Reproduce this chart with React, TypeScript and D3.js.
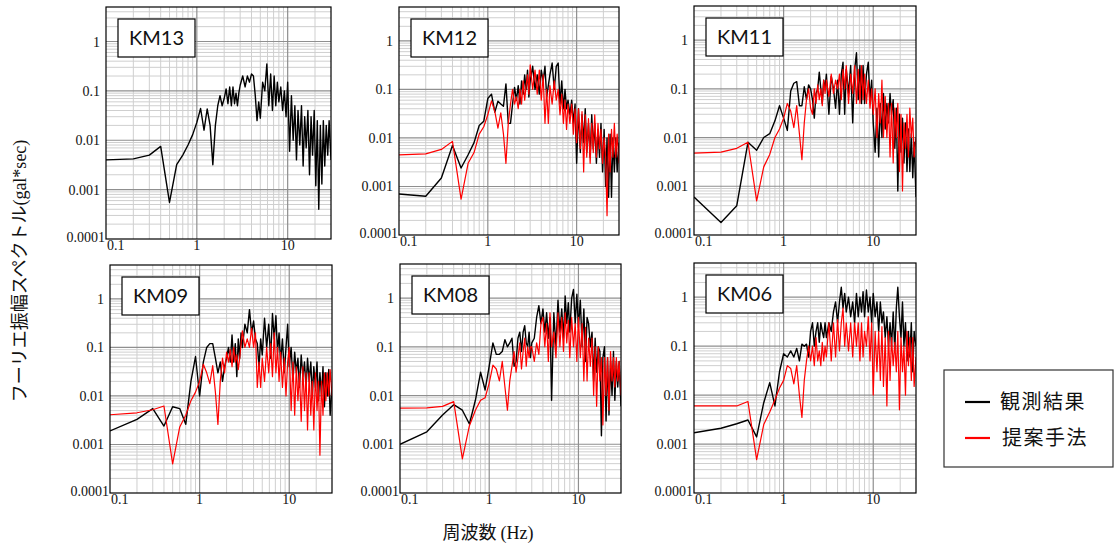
import React from 'react'
import * as d3 from 'd3'

// frequency grid (Hz) shared by every spectrum
const freqs = [
  0.1, 0.2, 0.3, 0.4, 0.5, 0.6, 0.7, 0.8, 0.9, 1.0,
  1.1, 1.2, 1.3, 1.4, 1.5, 1.6, 1.7, 1.8, 1.9, 2.0,
  2.1, 2.2, 2.3, 2.4, 2.5, 2.6, 2.7, 2.8, 2.9, 3.0,
  3.2, 3.4, 3.6, 3.8, 4.0, 4.2, 4.4, 4.6, 4.8, 5.0,
  5.3, 5.6, 5.9, 6.2, 6.5, 6.8, 7.1, 7.4, 7.7, 8.0,
  8.4, 8.8, 9.2, 9.6, 10.0, 10.5, 11.0, 11.5, 12.0, 12.5,
  13.0, 13.6, 14.2, 14.8, 15.4, 16.0, 16.7, 17.4, 18.1, 18.8,
  19.6, 20.4, 21.2, 22.0, 22.9, 23.8, 24.7, 25.6, 26.6, 27.6,
  28.6, 30.0,
]

// 観測結果 (observed)
const km13Obs = [
  0.004, 0.0042, 0.005, 0.0075, 0.00055, 0.0032, 0.005, 0.008, 0.013, 0.023,
  0.044, 0.016, 0.043, 0.02, 0.0032, 0.02, 0.05, 0.08, 0.05, 0.07,
  0.11, 0.055, 0.12, 0.05, 0.12, 0.055, 0.09, 0.05, 0.09, 0.13,
  0.2, 0.12, 0.2, 0.15, 0.22, 0.2, 0.08, 0.025, 0.06, 0.028,
  0.15, 0.1, 0.35, 0.05, 0.22, 0.04, 0.2, 0.05, 0.15, 0.06,
  0.12, 0.04, 0.1, 0.03, 0.15, 0.006, 0.08, 0.01, 0.05, 0.004,
  0.04, 0.008, 0.05, 0.003, 0.03, 0.007, 0.04, 0.002, 0.03, 0.005,
  0.04, 0.0012, 0.025, 0.0004, 0.02, 0.0013, 0.025, 0.003, 0.02, 0.005,
  0.025, 0.004,
]
const km12Obs = [
  0.0007, 0.00063, 0.0015, 0.007, 0.0024, 0.0045, 0.008, 0.018, 0.022, 0.065,
  0.08, 0.034, 0.057, 0.05, 0.045, 0.13, 0.02, 0.02, 0.05, 0.11,
  0.06, 0.12, 0.05, 0.15, 0.08, 0.2, 0.1, 0.25, 0.07, 0.15,
  0.3, 0.1, 0.2, 0.08, 0.25, 0.15, 0.3, 0.07, 0.12, 0.2,
  0.35, 0.1, 0.3, 0.35, 0.05, 0.15, 0.04, 0.1, 0.04, 0.06,
  0.03, 0.06, 0.02, 0.05, 0.003, 0.04, 0.005, 0.03, 0.008, 0.04,
  0.005, 0.02, 0.004, 0.03, 0.006, 0.02, 0.003, 0.015, 0.004, 0.02,
  0.002, 0.015, 0.001, 0.01, 0.0006, 0.012, 0.0006, 0.01, 0.002, 0.01,
  0.002, 0.008,
]
const km11Obs = [
  0.0006, 0.00018, 0.0004, 0.008, 0.0055, 0.01, 0.012, 0.022, 0.045, 0.025,
  0.014, 0.09, 0.13, 0.14, 0.045, 0.045, 0.11, 0.06, 0.12, 0.1,
  0.06, 0.025, 0.08, 0.1, 0.22, 0.1, 0.05, 0.15, 0.1, 0.2,
  0.03, 0.18, 0.1, 0.04, 0.15, 0.03, 0.2, 0.35, 0.03, 0.25,
  0.08, 0.3, 0.02, 0.25, 0.55, 0.06, 0.3, 0.05, 0.3, 0.05,
  0.2, 0.35, 0.06, 0.15, 0.02, 0.005, 0.04, 0.004, 0.05, 0.01,
  0.08, 0.015, 0.05, 0.02, 0.08, 0.03, 0.06, 0.006, 0.04, 0.0008,
  0.03, 0.005, 0.025, 0.003, 0.02, 0.002, 0.015, 0.002, 0.012, 0.0015,
  0.008, 0.0006,
]
const km09Obs = [
  0.0019, 0.0033, 0.0055, 0.0024, 0.006, 0.0055, 0.0026, 0.02, 0.065, 0.01,
  0.05, 0.1, 0.12, 0.12, 0.06, 0.03, 0.05, 0.02, 0.04, 0.06,
  0.1, 0.05, 0.18, 0.05, 0.12, 0.025, 0.15, 0.06, 0.2, 0.1,
  0.3, 0.2, 0.6, 0.2, 0.35, 0.15, 0.12, 0.04, 0.15, 0.07,
  0.4, 0.1, 0.3, 0.06, 0.5, 0.15, 0.45, 0.08, 0.2, 0.05,
  0.15, 0.03, 0.1, 0.3, 0.04, 0.1, 0.02, 0.08, 0.03, 0.06,
  0.015, 0.07, 0.025, 0.05, 0.015, 0.06, 0.02, 0.05, 0.01, 0.04,
  0.015, 0.05, 0.008, 0.03, 0.01, 0.04, 0.006, 0.03, 0.01, 0.035,
  0.004, 0.015,
]
const km08Obs = [
  0.001, 0.0018, 0.004, 0.0065, 0.005, 0.0026, 0.008, 0.03, 0.013, 0.04,
  0.12, 0.07, 0.07, 0.08, 0.14, 0.1, 0.12, 0.15, 0.04, 0.05,
  0.15, 0.2, 0.08, 0.2, 0.27, 0.12, 0.1, 0.2, 0.06, 0.12,
  0.15, 0.4, 0.7, 0.3, 0.6, 0.2, 0.5, 0.15, 0.4, 0.008,
  0.5, 0.1, 0.9, 0.2, 0.6, 0.15, 1.1, 0.3, 0.8, 0.2,
  1.0, 1.5, 0.3, 1.2, 0.25, 0.9, 0.1, 0.6, 0.05, 0.4,
  0.3, 0.1, 0.2, 0.02, 0.15, 0.03, 0.1, 0.08, 0.0015, 0.06,
  0.1, 0.003, 0.06, 0.004, 0.05, 0.01, 0.08, 0.008, 0.05, 0.015,
  0.05, 0.006,
]
const km06Obs = [
  0.0017, 0.0021, 0.0026, 0.0031, 0.0014, 0.007, 0.018, 0.006, 0.03, 0.07,
  0.06, 0.08, 0.06, 0.09, 0.05, 0.11, 0.1, 0.11, 0.06, 0.2,
  0.3, 0.1, 0.2, 0.3, 0.12, 0.3, 0.2, 0.15, 0.3, 0.15,
  0.3, 0.2, 0.5, 0.8, 0.3, 0.8, 1.6, 0.6, 1.2, 0.5,
  1.0, 0.4, 0.8, 0.3, 1.2, 0.4, 1.0, 0.5, 1.3, 0.4,
  1.4, 0.5, 1.0, 0.3, 1.2, 0.4, 0.8, 0.2, 0.8, 0.3,
  0.5, 0.15, 0.4, 0.1, 0.3, 0.1, 0.5, 0.08, 0.6, 1.6,
  0.4, 0.15, 0.8, 0.1, 0.3, 0.05, 0.2, 0.06, 0.3, 0.03,
  0.2, 0.1,
]

// 提案手法 (proposed method)
const km12Prop = [
  0.0045, 0.0047, 0.0058, 0.0085, 0.00055, 0.003, 0.005, 0.012, 0.017, 0.03,
  0.058, 0.035, 0.016, 0.033, 0.012, 0.003, 0.02, 0.05, 0.1, 0.05,
  0.07, 0.04, 0.1, 0.05, 0.15, 0.06, 0.12, 0.2, 0.08, 0.32,
  0.1, 0.25, 0.08, 0.25, 0.06, 0.2, 0.02, 0.1, 0.02, 0.12,
  0.05, 0.15, 0.06, 0.1, 0.03, 0.08, 0.02, 0.06, 0.015, 0.05,
  0.02, 0.05, 0.012, 0.04, 0.008, 0.04, 0.006, 0.035, 0.002, 0.03,
  0.004, 0.025, 0.003, 0.02, 0.005, 0.03, 0.004, 0.02, 0.006, 0.015,
  0.003, 0.01, 0.004, 0.00025, 0.012, 0.002, 0.015, 0.004, 0.02, 0.004,
  0.012, 0.003,
]
const km11Prop = [
  0.0048, 0.005, 0.006, 0.008, 0.0005, 0.0025, 0.0045, 0.01, 0.015, 0.025,
  0.05, 0.035, 0.016, 0.045, 0.012, 0.0035, 0.02, 0.06, 0.1, 0.04,
  0.03, 0.1, 0.05, 0.12, 0.06, 0.1, 0.045, 0.15, 0.08, 0.15,
  0.07, 0.2, 0.08, 0.15, 0.1, 0.2, 0.06, 0.25, 0.1, 0.3,
  0.05, 0.2, 0.08, 0.3, 0.05, 0.25, 0.05, 0.3, 0.06, 0.2,
  0.05, 0.15, 0.04, 0.1, 0.03, 0.1, 0.01, 0.08, 0.02, 0.15,
  0.01, 0.07, 0.01, 0.05, 0.004, 0.05, 0.003, 0.04, 0.01, 0.05,
  0.002, 0.03, 0.0008, 0.02, 0.006, 0.03, 0.004, 0.04, 0.01, 0.025,
  0.004, 0.01,
]
const km09Prop = [
  0.0041, 0.0045, 0.0052, 0.0062, 0.0004, 0.0023, 0.004, 0.008, 0.012, 0.02,
  0.045, 0.03, 0.018, 0.042, 0.012, 0.0026, 0.02, 0.06, 0.03, 0.08,
  0.05, 0.09, 0.04, 0.1, 0.05, 0.07, 0.035, 0.06, 0.12, 0.22,
  0.1, 0.15, 0.1, 0.25, 0.1, 0.2, 0.015, 0.05, 0.015, 0.06,
  0.02, 0.1, 0.03, 0.12, 0.025, 0.2, 0.03, 0.1, 0.02, 0.08,
  0.015, 0.06, 0.01, 0.05, 0.1, 0.005, 0.05, 0.004, 0.04, 0.008,
  0.03, 0.003, 0.04, 0.005, 0.03, 0.002, 0.03, 0.004, 0.02, 0.002,
  0.03, 0.005, 0.02, 0.0006, 0.02, 0.004, 0.03, 0.008, 0.03, 0.01,
  0.035, 0.01,
]
const km08Prop = [
  0.0055, 0.0056, 0.006, 0.0075, 0.0005, 0.0024, 0.005, 0.008, 0.009, 0.018,
  0.042, 0.035, 0.02, 0.05, 0.015, 0.005, 0.02, 0.04, 0.08, 0.03,
  0.06, 0.12, 0.035, 0.08, 0.15, 0.04, 0.1, 0.06, 0.1, 0.1,
  0.05, 0.12, 0.07, 0.3, 0.4, 0.1, 0.3, 0.05, 0.5, 0.1,
  0.2, 0.06, 0.5, 0.1, 0.4, 0.08, 0.5, 0.12, 0.35, 0.06,
  0.4, 0.1, 0.3, 0.05, 0.4, 0.06, 0.3, 0.02, 0.25, 0.02,
  0.15, 0.04, 0.15, 0.01, 0.1, 0.006, 0.1, 0.02, 0.06, 0.0025,
  0.06, 0.01, 0.06, 0.005, 0.08, 0.02, 0.06, 0.015, 0.06, 0.02,
  0.05, 0.01,
]
const km06Prop = [
  0.006, 0.006, 0.006, 0.0074, 0.00048, 0.0025, 0.0045, 0.008, 0.014, 0.02,
  0.04, 0.035, 0.017, 0.04, 0.01, 0.0035, 0.02, 0.05, 0.1, 0.05,
  0.1, 0.04, 0.15, 0.05, 0.08, 0.04, 0.12, 0.05, 0.1, 0.06,
  0.3, 0.05, 0.3, 0.06, 0.35, 0.08, 0.3, 0.6, 0.1, 0.3,
  0.08, 0.3, 0.06, 0.3, 0.1, 0.3, 0.05, 0.3, 0.06, 0.2,
  0.1, 0.4, 0.05, 0.3, 0.01, 0.2, 0.03, 0.2, 0.02, 0.25,
  0.015, 0.15, 0.006, 0.2, 0.02, 0.15, 0.04, 0.12, 0.03, 0.2,
  0.005, 0.15, 0.03, 0.1, 0.01, 0.2, 0.04, 0.15, 0.02, 0.15,
  0.015, 0.06,
]

const xTickValues = [0.1, 1, 10]
const xTickLabels = ['0.1', '1', '10']
const yTickValues = [0.0001, 0.001, 0.01, 0.1, 1]
const yTickLabels = ['0.0001', '0.001', '0.01', '0.1', '1']
const legendLabels = ['観測結果', '提案手法']

const serif = '"Liberation Serif", "DejaVu Serif", serif'
const cjk = '"Noto Sans CJK JP", "Noto Sans", sans-serif'

interface PanelDef {
    name: string
    obs: number[]
    prop: number[] | null
    x0: number
    x1: number
    y0: number
    y1: number
}

const panels: PanelDef[] = [
    { name: 'KM13', obs: km13Obs, prop: null, x0: 106, x1: 331, y0: 7, y1: 239 },
    { name: 'KM12', obs: km12Obs, prop: km12Prop, x0: 399, x1: 619, y0: 7, y1: 235 },
    { name: 'KM11', obs: km11Obs, prop: km11Prop, x0: 694, x1: 916, y0: 6, y1: 235 },
    { name: 'KM09', obs: km09Obs, prop: km09Prop, x0: 110, x1: 332, y0: 265, y1: 493 },
    { name: 'KM08', obs: km08Obs, prop: km08Prop, x0: 400, x1: 621, y0: 264, y1: 493 },
    { name: 'KM06', obs: km06Obs, prop: km06Prop, x0: 694, x1: 916, y0: 263, y1: 493 },
]

const isDecade = (v: number) => {
    const l = Math.log10(v)
    return Math.abs(l - Math.round(l)) < 1e-6
}

function SpectrumPanel({ p, idx }: { p: PanelDef; idx: number }) {
    const x = d3.scaleLog().domain([0.1, 30]).range([p.x0, p.x1])
    const y = d3.scaleLog().domain([0.0001, 5]).range([p.y1, p.y0])
    const line = d3.line<number>()
        .x((_, i) => x(freqs[i]))
        .y(d => y(d))

    const xGrid = x.ticks().filter(v => v > 0.1 && v < 30)
    const yGrid = y.ticks().filter(v => v > 0.0001 && v < 5)
    const clipId = `clip-${idx}`

    return (
        <g>
            <defs>
                <clipPath id={clipId}>
                    <rect x={p.x0} y={p.y0} width={p.x1 - p.x0} height={p.y1 - p.y0} />
                </clipPath>
            </defs>
            <rect x={p.x0} y={p.y0} width={p.x1 - p.x0} height={p.y1 - p.y0} fill="#fff" />
            {/* minor grid first, decades on top */}
            {xGrid.filter(v => !isDecade(v)).map(v => (
                <line key={`xm${v}`} x1={x(v)} x2={x(v)} y1={p.y0} y2={p.y1} stroke="#cfcfcf" strokeWidth={1} />
            ))}
            {yGrid.filter(v => !isDecade(v)).map(v => (
                <line key={`ym${v}`} x1={p.x0} x2={p.x1} y1={y(v)} y2={y(v)} stroke="#cfcfcf" strokeWidth={1} />
            ))}
            {xGrid.filter(isDecade).map(v => (
                <line key={`xM${v}`} x1={x(v)} x2={x(v)} y1={p.y0} y2={p.y1} stroke="#8f8f8f" strokeWidth={1.2} />
            ))}
            {yGrid.filter(isDecade).map(v => (
                <line key={`yM${v}`} x1={p.x0} x2={p.x1} y1={y(v)} y2={y(v)} stroke="#8f8f8f" strokeWidth={1.2} />
            ))}

            <g clipPath={`url(#${clipId})`}>
                <path d={line(p.obs) || ''} fill="none" stroke="#000" strokeWidth={1.4} strokeLinejoin="round" />
                {p.prop && (
                    <path d={line(p.prop) || ''} fill="none" stroke="#ff0000" strokeWidth={1.2} strokeLinejoin="round" />
                )}
            </g>

            <rect x={p.x0} y={p.y0} width={p.x1 - p.x0} height={p.y1 - p.y0} fill="none" stroke="#000" strokeWidth={1.2} />

            {/* station label */}
            <rect x={p.x0 + 12} y={p.y0 + 12} width={77} height={38} fill="#fff" stroke="#000" strokeWidth={1.2} />
            <text x={p.x0 + 12 + 38.5} y={p.y0 + 12 + 26} textAnchor="middle" fontFamily='Lato, "Open Sans", sans-serif' fontSize={20} fill="#111">
                {p.name}
            </text>

            {yTickValues.map((v, i) => (
                <text key={`yl${i}`} x={i === 0 ? p.x0 - 1 : p.x0 - 6} y={i === 0 ? p.y1 + 3 : y(v) + 5}
                    textAnchor="end" fontFamily={serif} fontSize={14} fill="#111">
                    {yTickLabels[i]}
                </text>
            ))}
            {xTickValues.map((v, i) => (
                <text key={`xl${i}`} x={i === 0 ? p.x0 + 1 : x(v)} y={p.y1 + 11}
                    textAnchor={i === 0 ? 'start' : 'middle'} fontFamily={serif} fontSize={14} fill="#111">
                    {xTickLabels[i]}
                </text>
            ))}
        </g>
    )
}

export default function App() {
    const legendColors = ['#000', '#ff0000']
    return (
        <svg width={1115} height={545} viewBox="0 0 1115 545" style={{ position: 'absolute', left: 0, top: 0, background: '#fff' }}>
            {panels.map((p, i) => <SpectrumPanel key={p.name} p={p} idx={i} />)}

            {/* axis titles */}
            <text transform="translate(26,271) rotate(-90)" textAnchor="middle" fontSize={18} fill="#111">
                <tspan fontFamily={cjk}>フーリエ振幅スペクトル</tspan>
                <tspan fontFamily={serif}>(gal*sec)</tspan>
            </text>
            <text x={488} y={539} textAnchor="middle" fontSize={18} fill="#111">
                <tspan fontFamily={cjk}>周波数 </tspan>
                <tspan fontFamily={serif}>(Hz)</tspan>
            </text>

            {/* legend */}
            <rect x={944} y={370} width={169} height={97} fill="#fff" stroke="#333" strokeWidth={1.2} />
            {legendLabels.map((lab, i) => (
                <g key={lab}>
                    <line x1={965} x2={990} y1={402 + i * 36} y2={402 + i * 36} stroke={legendColors[i]} strokeWidth={2.2} />
                    <text x={1000 + i * 2} y={409 + i * 36} fontFamily={cjk} fontSize={20} letterSpacing={1.5} fill="#111">{lab}</text>
                </g>
            ))}
        </svg>
    )
}
